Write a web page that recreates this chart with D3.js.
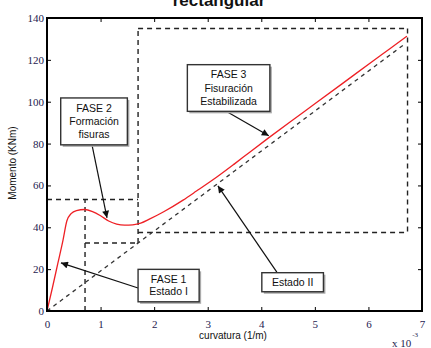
<!DOCTYPE html>
<html><head><meta charset="utf-8">
<script src="https://cdn.jsdelivr.net/npm/d3@7"></script>
<style>body{margin:0;background:#fff}svg{display:block}</style>
</head><body><div id="chart"></div>
<script>
// ---- data ----
const xTicks = [0,1,2,3,4,5,6,7];
const yTicks = [0,20,40,60,80,100,120,140];
// Momento-curvatura curve (curvatura x10^-3 1/m, Momento KNm)
const curvRed = [0,0.1,0.2,0.3,0.37,0.45,0.55,0.7,0.85,1.0,1.15,1.3,1.45,1.6,1.75,1.92,2.17,2.54,2.79,3.17,3.5,3.79,4.13,4.53,5.0,5.5,6.06,6.4,6.72];
const momRed  = [0,11,22.5,34,43,46.5,48,48.5,47.5,45.5,43,41.5,41,41.2,42,44,47.3,53,57.3,64,70.3,76,82.6,90.2,99,108.4,119,125.3,131.3];
// Estado II line
const curvEII = [0,6.7];
const momEII  = [0,128];
// dashed phase boxes: segments [x1,y1,x2,y2]
const phaseSegments = [
  [0,53.3,1.7,53.3],
  [0.71,0,0.71,53.3],
  [0.71,32.5,1.7,32.5],
  [1.7,32.5,1.7,135],
  [1.7,135,6.73,135],
  [6.73,135,6.73,37.5],
  [1.7,37.5,6.73,37.5]
];
// annotations: box [x0,y0,x1,y1] in data units, arrow [from x,y, to x,y]
const annLabels = [["FASE 1","Estado I"],["FASE 2","Formación","fisuras"],["FASE 3","Fisuración","Estabilizada"],["Estado II"]];
const annBoxes = [[1.70,19.9,2.84,4.4],[0.256,101.8,1.50,79.4],[2.62,117.7,4.16,95.4],[4.01,18.3,5.16,9.2]];
const annArrows = [[1.70,11,0.26,23.0],[0.84,79.4,1.12,44.5],[3.36,95.2,4.14,83.7],[4.29,18.6,3.19,59.8]];

// ---- chart ----
const W=431,H=348;
const svg=d3.select("#chart").append("svg").attr("width",W).attr("height",H);
const x=d3.scaleLinear().domain([0,7]).range([47,422]);
const y=d3.scaleLinear().domain([0,140]).range([311,18]);

svg.append("defs").append("marker").attr("id","ah").attr("viewBox","0 0 10 10")
  .attr("refX",10).attr("refY",5).attr("markerWidth",8).attr("markerHeight",7)
  .attr("markerUnits","userSpaceOnUse").attr("orient","auto")
  .append("path").attr("d","M0,0L10,5L0,10Z").attr("fill","#111");

// title (partly cut at top, as in the reference)
svg.append("text").attr("x",219).attr("y",6).attr("text-anchor","middle")
  .attr("font-family","Liberation Sans, Arial, sans-serif").attr("font-weight","bold")
  .attr("font-size",17).attr("fill","#111").text("rectangular");

const tickFont="Liberation Serif, Times New Roman, serif";
const fmt=d3.format("d");
function styleAxis(g,showText){
  g.select(".domain").remove();
  g.selectAll(".tick line").attr("stroke","#000").attr("stroke-width",1);
  g.selectAll(".tick text").attr("font-family",tickFont).attr("font-size",11).attr("fill","#1e2250");
  if(!showText) g.selectAll(".tick text").remove();
}
svg.append("g").attr("transform","translate(47,0)")
  .call(d3.axisLeft(y).tickValues(yTicks).tickFormat(fmt).tickSize(-4).tickPadding(3)).call(g=>styleAxis(g,true));
svg.append("g").attr("transform","translate(0,311)")
  .call(d3.axisBottom(x).tickValues(xTicks).tickFormat(fmt).tickSize(-4).tickPadding(9)).call(g=>styleAxis(g,true));
svg.append("g").attr("transform","translate(0,18)")
  .call(d3.axisTop(x).tickValues(xTicks).tickSize(-4)).call(g=>styleAxis(g,false));
svg.append("g").attr("transform","translate(422,0)")
  .call(d3.axisRight(y).tickValues(yTicks).tickSize(-4)).call(g=>styleAxis(g,false));

// phase boxes
svg.append("g").selectAll("line").data(phaseSegments).join("line")
  .attr("x1",d=>x(d[0])).attr("y1",d=>y(d[1])).attr("x2",d=>x(d[2])).attr("y2",d=>y(d[3]))
  .attr("stroke","#222").attr("stroke-width",1.4).attr("stroke-dasharray","5,4");

// Estado II line
svg.append("path").datum(curvEII.map((c,i)=>[c,momEII[i]]))
  .attr("d",d3.line().x(d=>x(d[0])).y(d=>y(d[1])))
  .attr("fill","none").attr("stroke","#333").attr("stroke-width",1.3).attr("stroke-dasharray","4,4");

// red curve
svg.append("path").datum(curvRed.map((c,i)=>[c,momRed[i]]))
  .attr("d",d3.line().x(d=>x(d[0])).y(d=>y(d[1])).curve(d3.curveMonotoneX))
  .attr("fill","none").attr("stroke","#ee2025").attr("stroke-width",1.3);

// axes box
svg.append("rect").attr("x",47).attr("y",18).attr("width",375).attr("height",293)
  .attr("fill","none").attr("stroke","#000").attr("stroke-width",2);

// annotations
svg.append("g").selectAll("line").data(annArrows).join("line")
  .attr("x1",d=>x(d[0])).attr("y1",d=>y(d[1])).attr("x2",d=>x(d[2])).attr("y2",d=>y(d[3]))
  .attr("stroke","#111").attr("stroke-width",1.2).attr("marker-end","url(#ah)");
const ag=svg.append("g").selectAll("g").data(annBoxes).join("g");
ag.append("rect").attr("x",d=>x(d[0])+2).attr("y",d=>y(d[1])+2)
  .attr("width",d=>x(d[2])-x(d[0])).attr("height",d=>y(d[3])-y(d[1])).attr("fill","#aaa");
ag.append("rect").attr("x",d=>x(d[0])).attr("y",d=>y(d[1]))
  .attr("width",d=>x(d[2])-x(d[0])).attr("height",d=>y(d[3])-y(d[1]))
  .attr("fill","#fff").attr("stroke","#333").attr("stroke-width",1.4);
ag.each(function(d,i){
  const lines=annLabels[i];
  const cx=(x(d[0])+x(d[2]))/2, cy=(y(d[1])+y(d[3]))/2;
  const lh=lines.length===3?13.4:12.4;
  lines.forEach((t,j)=>{
    d3.select(this).append("text").attr("x",cx).attr("y",cy+(j-(lines.length-1)/2)*lh)
      .attr("dy","0.35em").attr("text-anchor","middle")
      .attr("font-family","Liberation Sans, Arial, sans-serif").attr("font-size",10.5)
      .attr("fill","#111").text(t);
  });
});

// axis labels
svg.append("text").attr("x",233).attr("y",339).attr("text-anchor","middle")
  .attr("font-family","Liberation Sans, Arial, sans-serif").attr("font-size",10).attr("fill","#111")
  .text("curvatura (1/m)");
svg.append("text").attr("transform","translate(16,163) rotate(-90)").attr("text-anchor","middle")
  .attr("font-family","Liberation Sans, Arial, sans-serif").attr("font-size",10).attr("fill","#111")
  .text("Momento (KNm)");
const ex=svg.append("text").attr("x",392).attr("y",347)
  .attr("font-family",tickFont).attr("font-size",11).attr("fill","#1e2250");
ex.append("tspan").text("x 10");
ex.append("tspan").attr("dx",1).attr("dy",-10).attr("font-size",7).text("-3");
</script></body></html>
